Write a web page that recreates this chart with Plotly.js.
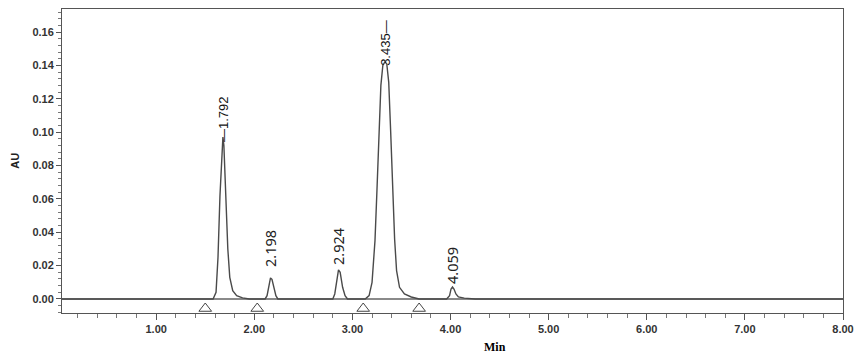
<!DOCTYPE html>
<html>
<head>
<meta charset="utf-8">
<script src="https://cdn.plot.ly/plotly-3.0.1.min.js"></script>
<style>html,body{margin:0;padding:0;background:#fff;}#chart{width:861px;height:356px;}</style>
</head>
<body>
<div id="chart"></div>
<script>
// Chromatogram signal (time in min, absorbance in AU)
const time = [0.04, 1.50, 1.58, 1.61, 1.63, 1.65, 1.67, 1.68, 1.69, 1.71, 1.73, 1.75, 1.78, 1.82, 1.88, 1.95,
  2.11, 2.13, 2.15, 2.165, 2.18, 2.20, 2.22, 2.24,
  2.80, 2.82, 2.84, 2.858, 2.875, 2.90, 2.925, 2.95,
  3.13, 3.17, 3.20, 3.23, 3.25, 3.27, 3.29, 3.31, 3.33, 3.35, 3.37, 3.39, 3.41, 3.43, 3.45, 3.48, 3.53, 3.60, 3.68,
  3.96, 3.99, 4.005, 4.02, 4.035, 4.055, 4.08, 4.14, 4.25, 8.00];
const absorbance = [0, 0, 0.000, 0.004, 0.025, 0.062, 0.093, 0.097, 0.092, 0.060, 0.030, 0.013, 0.005, 0.002, 0.0007, 0,
  0, 0.002, 0.009, 0.0126, 0.0118, 0.006, 0.002, 0,
  0, 0.003, 0.012, 0.0174, 0.016, 0.007, 0.002, 0,
  0, 0.002, 0.010, 0.035, 0.065, 0.100, 0.128, 0.140, 0.142, 0.141, 0.130, 0.100, 0.066, 0.036, 0.017, 0.007, 0.003, 0.0012, 0,
  0, 0.002, 0.006, 0.0072, 0.006, 0.003, 0.0012, 0.0005, 0, 0];

// Peak apex positions and retention-time labels
const peakTimes = [1.68, 2.165, 2.858, 3.33, 4.02];
const peakHeights = [0.097, 0.0126, 0.0174, 0.142, 0.0072];
const peakLabels = ['1.792', '2.198', '2.924', '3.435', '4.059'];

// Integration baseline markers
const markerTimes = [1.50, 2.03, 3.11, 3.68];
const markerLevel = [-0.0057, -0.0057, -0.0057, -0.0057];

const labelStyle = [
  {text: '\u2014' + peakLabels[0], size: 13, fam: 'Liberation Sans, Arial, sans-serif', yshift: -7, color: '#111'},
  {text: peakLabels[1], size: 14.5, fam: 'Noto Sans, sans-serif', yshift: 9, color: '#222'},
  {text: peakLabels[2], size: 14.5, fam: 'Noto Sans, sans-serif', yshift: 3, color: '#222'},
  {text: peakLabels[3] + '\u2014', size: 13, fam: 'Liberation Sans, Arial, sans-serif', yshift: -6, color: '#111'},
  {text: peakLabels[4], size: 14.5, fam: 'Noto Sans, sans-serif', yshift: 1, color: '#222'}
];

const annotations = peakTimes.map((t, i) => ({
  x: t, y: peakHeights[i], xref: 'x', yref: 'y',
  text: labelStyle[i].text, textangle: -90, showarrow: false,
  xanchor: 'center', yanchor: 'bottom', yshift: labelStyle[i].yshift,
  font: {family: labelStyle[i].fam, size: labelStyle[i].size, color: labelStyle[i].color}
}));
annotations.push({
  xref: 'paper', yref: 'paper', x: 0.554, y: -0.112, xanchor: 'center', yanchor: 'middle',
  text: '<b>Min</b>', showarrow: false,
  font: {family: 'Liberation Serif, Times New Roman, serif', size: 12, color: '#000'}
});
annotations.push({
  xref: 'paper', yref: 'paper', x: -0.0605, y: 0.5, xanchor: 'center', yanchor: 'middle',
  text: '<b>AU</b>', textangle: -90, showarrow: false,
  font: {family: 'Liberation Sans, Arial, sans-serif', size: 11, color: '#222'}
});

const traces = [
  {x: time, y: absorbance, type: 'scatter', mode: 'lines',
   line: {color: '#4a4a4a', width: 1.4, shape: 'linear'}, hoverinfo: 'skip'},
  {x: markerTimes, y: markerLevel, type: 'scatter', mode: 'markers',
   marker: {symbol: 'triangle-up-open', size: 11, color: '#444', line: {width: 1, color: '#444'}}, hoverinfo: 'skip'}
];

const tickFont = {family: 'Liberation Sans, Arial, sans-serif', size: 11, color: '#333', weight: 'bold'};

const layout = {
  width: 861, height: 356,
  margin: {l: 62, r: 18, t: 9, b: 43},
  paper_bgcolor: '#fff', plot_bgcolor: '#fff',
  showlegend: false,
  xaxis: {
    range: [0.04, 8.0], tick0: 0, dtick: 1, tickformat: '.2f',
    showgrid: false, zeroline: false,
    showline: true, linecolor: '#555', linewidth: 1, mirror: true,
    ticks: 'outside', ticklen: 6, tickcolor: '#555', tickwidth: 1,
    minor: {dtick: 0.2, tick0: 0, ticks: 'outside', ticklen: 4, tickcolor: '#777', showgrid: false},
    tickfont: tickFont, fixedrange: true
  },
  yaxis: {
    range: [-0.0084, 0.1738], tick0: 0, dtick: 0.02, tickformat: '.2f',
    showgrid: false, zeroline: true, zerolinecolor: '#8a8a8a', zerolinewidth: 2,
    showline: true, linecolor: '#555', linewidth: 1, mirror: true,
    ticks: 'outside', ticklen: 5, tickcolor: '#555', tickwidth: 1,
    minor: {dtick: 0.004, tick0: 0, ticks: 'outside', ticklen: 3, tickcolor: '#777', showgrid: false},
    tickfont: tickFont, fixedrange: true
  },
  annotations: annotations
};

Plotly.newPlot('chart', traces, layout, {staticPlot: true, displayModeBar: false});
</script>
</body>
</html>
